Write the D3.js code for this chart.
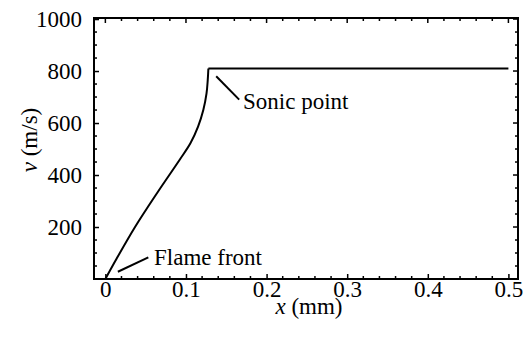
<!DOCTYPE html>
<html>
<head>
<meta charset="utf-8">
<script src="https://cdn.jsdelivr.net/npm/d3@7"></script>
<style>
  body { margin: 0; background: #fff; }
</style>
</head>
<body>
<svg id="chart" width="528" height="348"></svg>
<script>
// velocity profile, rising part up to the sonic point
var xRise = [0, 0.013, 0.037, 0.064, 0.092, 0.1055, 0.1150, 0.1215, 0.1255, 0.1270, 0.1278]
var vRise = [0, 73, 201, 330, 458, 522, 586, 650, 714, 765, 810]
// flat part after the sonic point
var xFlat = [0.1278, 0.5]
var vFlat = [810, 810]

var xMajor = [0, 0.1, 0.2, 0.3, 0.4, 0.5]
var xTickLabels = ['0', '0.1', '0.2', '0.3', '0.4', '0.5']
var vMajor = [200, 400, 600, 800, 1000]
var vTickLabels = ['200', '400', '600', '800', '1000']
var xMinor = d3.range(0, 0.511, 0.02)
var vMinor = d3.range(50, 1001, 50)

var notes = [
    { text: 'Sonic point', x: 0.1375, v: 780, x2: 0.166, v2: 690, tx: 243, ty: 109 },
    { text: 'Flame front', x: 0.0155, v: 28, x2: 0.0533, v2: 83, tx: 154, ty: 265 }
]

var plotLeft = 94, plotRight = 518, plotTop = 18, plotBottom = 279
var fontSize = 23
var serif = '"Liberation Serif", "Times New Roman", serif'

var svg = d3.select('#chart')

var xScale = d3.scaleLinear()
    .domain([-0.0141, 0.5119])
    .range([plotLeft, plotRight])

var yScale = d3.scaleLinear()
    .domain([0, 1004])
    .range([plotBottom, plotTop])

// bottom axis with labels
var xAxis = d3.axisBottom(xScale)
    .tickValues(xMajor)
    .tickFormat(function (d, i) { return xTickLabels[i] })
    .tickSize(-5)
    .tickPadding(2)
var xG = svg.append('g').attr('transform', `translate(0, ${plotBottom})`).call(xAxis)

var yAxis = d3.axisLeft(yScale)
    .tickValues(vMajor)
    .tickFormat(function (d, i) { return vTickLabels[i] })
    .tickSize(-5)
    .tickPadding(12)
var yG = svg.append('g').attr('transform', `translate(${plotLeft}, 0)`).call(yAxis)

;[xG, yG].forEach(function (g) {
    g.select('.domain').remove()
    g.selectAll('.tick line').attr('stroke', '#000').attr('stroke-width', 1.5)
    g.selectAll('.tick text')
        .style('font-family', serif)
        .style('font-size', fontSize + 'px')
        .attr('fill', '#000')
})

// mirrored and minor ticks
var tickG = svg.append('g').attr('stroke', '#000').attr('stroke-width', 1.5)
xMinor.forEach(function (d) {
    var isMajor = xMajor.some(function (m) { return Math.abs(m - d) < 1e-6 })
    var len = isMajor ? 5 : 3
    if (!isMajor) {
        tickG.append('line')
            .attr('x1', xScale(d)).attr('x2', xScale(d))
            .attr('y1', plotBottom).attr('y2', plotBottom - len)
    }
    tickG.append('line')
        .attr('x1', xScale(d)).attr('x2', xScale(d))
        .attr('y1', plotTop).attr('y2', plotTop + len)
})
vMinor.forEach(function (d) {
    var isMajor = vMajor.indexOf(d) > -1
    var len = isMajor ? 5 : 3
    if (!isMajor) {
        tickG.append('line')
            .attr('x1', plotLeft).attr('x2', plotLeft + len)
            .attr('y1', yScale(d)).attr('y2', yScale(d))
    }
    tickG.append('line')
        .attr('x1', plotRight).attr('x2', plotRight - len)
        .attr('y1', yScale(d)).attr('y2', yScale(d))
})

// frame
svg.append('rect')
    .attr('x', plotLeft).attr('y', plotTop)
    .attr('width', plotRight - plotLeft).attr('height', plotBottom - plotTop)
    .attr('fill', 'none')
    .attr('stroke', '#000')
    .attr('stroke-width', 2)

// curve
var riseLine = d3.line()
    .x(function (d, i) { return xScale(xRise[i]) })
    .y(function (d, i) { return yScale(vRise[i]) })
    .curve(d3.curveCatmullRom.alpha(0.5))
svg.append('path')
    .attr('d', riseLine(xRise))
    .attr('fill', 'none').attr('stroke', '#000').attr('stroke-width', 2)

var flatLine = d3.line()
    .x(function (d, i) { return xScale(xFlat[i]) })
    .y(function (d, i) { return yScale(vFlat[i]) })
svg.append('path')
    .attr('d', flatLine(xFlat))
    .attr('fill', 'none').attr('stroke', '#000').attr('stroke-width', 2)

// annotations
notes.forEach(function (n) {
    svg.append('line')
        .attr('x1', xScale(n.x)).attr('y1', yScale(n.v))
        .attr('x2', xScale(n.x2)).attr('y2', yScale(n.v2))
        .attr('stroke', '#000').attr('stroke-width', 2)
    svg.append('text')
        .attr('x', n.tx).attr('y', n.ty)
        .style('font-family', serif)
        .style('font-size', fontSize + 'px')
        .text(n.text)
})

// axis titles
var yTitle = svg.append('text')
    .attr('transform', 'translate(37, 140) rotate(-90)')
    .attr('text-anchor', 'middle')
    .style('font-family', serif)
    .style('font-size', fontSize + 'px')
yTitle.append('tspan').style('font-style', 'italic').text('v')
yTitle.append('tspan').text(' (m/s)')

var xTitle = svg.append('text')
    .attr('x', 309).attr('y', 314)
    .attr('text-anchor', 'middle')
    .style('font-family', serif)
    .style('font-size', fontSize + 'px')
xTitle.append('tspan').style('font-style', 'italic').text('x')
xTitle.append('tspan').text(' (mm)')
</script>
</body>
</html>
